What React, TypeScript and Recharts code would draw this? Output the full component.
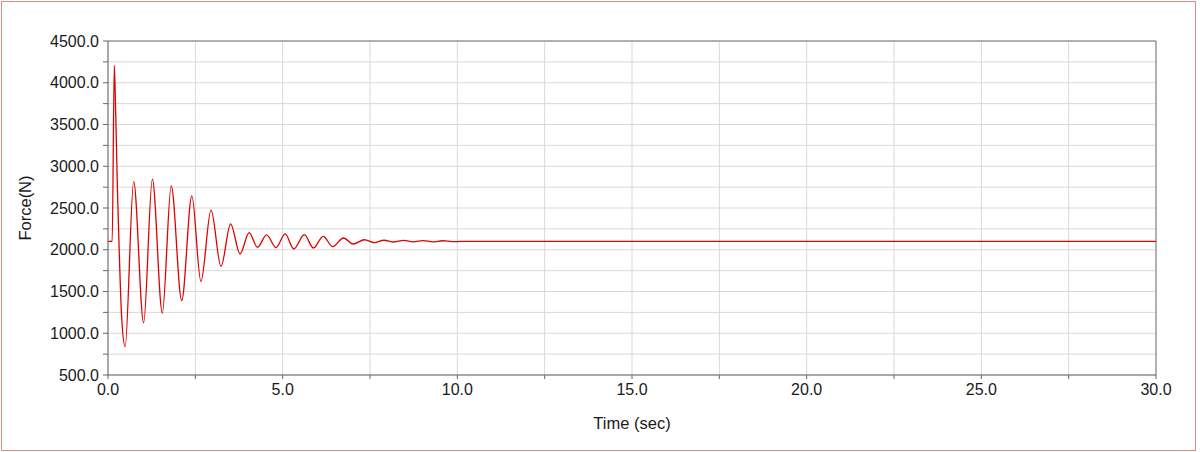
import { CartesianGrid, Line, LineChart, ReferenceLine, XAxis, YAxis } from 'recharts';

// damped force response
const timeSec = [
  0, 0.12, 0.18, 0.22, 0.27, 0.32, 0.39, 0.49,
  0.735, 1.02, 1.27, 1.555, 1.81, 2.11, 2.4, 2.66, 2.95, 3.235, 3.51, 3.78,
  4.04, 4.28, 4.54, 4.81, 5.07, 5.32, 5.62, 5.88, 6.16, 6.43, 6.74, 7.02,
  7.34, 7.62, 7.9, 8.18, 8.46, 8.74, 9.02, 9.3, 9.58, 9.86, 10.1, 30,
];
const forceN = [
  2100, 2100, 4210, 3640, 2720, 2000, 1200, 840,
  2815, 1125, 2845, 1240, 2765, 1390, 2645, 1620, 2475, 1800, 2310, 1950,
  2205, 2030, 2177, 2025, 2189, 2010, 2180, 2021, 2161, 2037, 2141, 2069,
  2120, 2085, 2114, 2093, 2112, 2094, 2110, 2095, 2108, 2097, 2100, 2100,
];

const timeTicks = [0, 2.5, 5, 7.5, 10, 12.5, 15, 17.5, 20, 22.5, 25, 27.5, 30];
const forceTicks = [
  500, 750, 1000, 1250, 1500, 1750, 2000, 2250, 2500, 2750,
  3000, 3250, 3500, 3750, 4000, 4250, 4500,
];

const data = timeSec.map((t, i) => ({ t, force: forceN[i] }));

const FONT = 'Arial, "Liberation Sans", sans-serif';
const tickStyle = { fontSize: 16, fill: '#1a1a1a', fontFamily: FONT };

export default function App() {
  return (
    <div style={{ position: 'absolute', left: 0, top: 0, width: 1200, height: 452, background: '#fff' }}>
      <div
        style={{
          position: 'absolute',
          left: 1,
          top: 1,
          width: 1195,
          height: 450,
          boxSizing: 'border-box',
          border: '1px solid #d98a8a',
        }}
      />
      <div style={{ position: 'absolute', left: 0, top: 0 }}>
        <LineChart
          width={1200}
          height={452}
          data={data}
          margin={{ top: 41, right: 44, left: 8, bottom: 17 }}
          style={{ fontFamily: FONT }}
        >
          <CartesianGrid stroke="#d9d9d9" strokeWidth={1} />
          <XAxis
            dataKey="t"
            type="number"
            domain={[0, 30]}
            ticks={timeTicks}
            interval={0}
            tickFormatter={(v: number) => (v % 5 === 0 ? v.toFixed(1) : '')}
            tick={tickStyle}
            tickSize={4}
            tickMargin={5}
            tickLine={{ stroke: '#666' }}
            axisLine={{ stroke: '#666' }}
            height={60}
            label={{ value: 'Time (sec)', position: 'insideBottom', offset: 6, fontSize: 16.5, fill: '#1a1a1a' }}
          />
          <YAxis
            type="number"
            domain={[500, 4500]}
            ticks={forceTicks}
            interval={0}
            tickFormatter={(v: number) => (v % 500 === 0 ? v.toFixed(1) : '')}
            tick={tickStyle}
            tickSize={5}
            tickMargin={4}
            tickLine={{ stroke: '#666' }}
            axisLine={{ stroke: '#666' }}
            width={100}
            label={{
              content: ({ viewBox }: any) => {
                const cy = viewBox.y + viewBox.height / 2;
                return (
                  <text
                    x={25}
                    y={cy}
                    transform={`rotate(-90 25 ${cy})`}
                    textAnchor="middle"
                    dominantBaseline="central"
                    fontSize={16.5}
                    fill="#1a1a1a"
                  >
                    Force(N)
                  </text>
                );
              },
            }}
          />
          <ReferenceLine y={4500} stroke="#777" />
          <ReferenceLine x={30} stroke="#777" />
          <Line
            type="monotone"
            dataKey="force"
            stroke="#e00000"
            strokeWidth={1.3}
            dot={false}
            isAnimationActive={false}
          />
        </LineChart>
      </div>
    </div>
  );
}
